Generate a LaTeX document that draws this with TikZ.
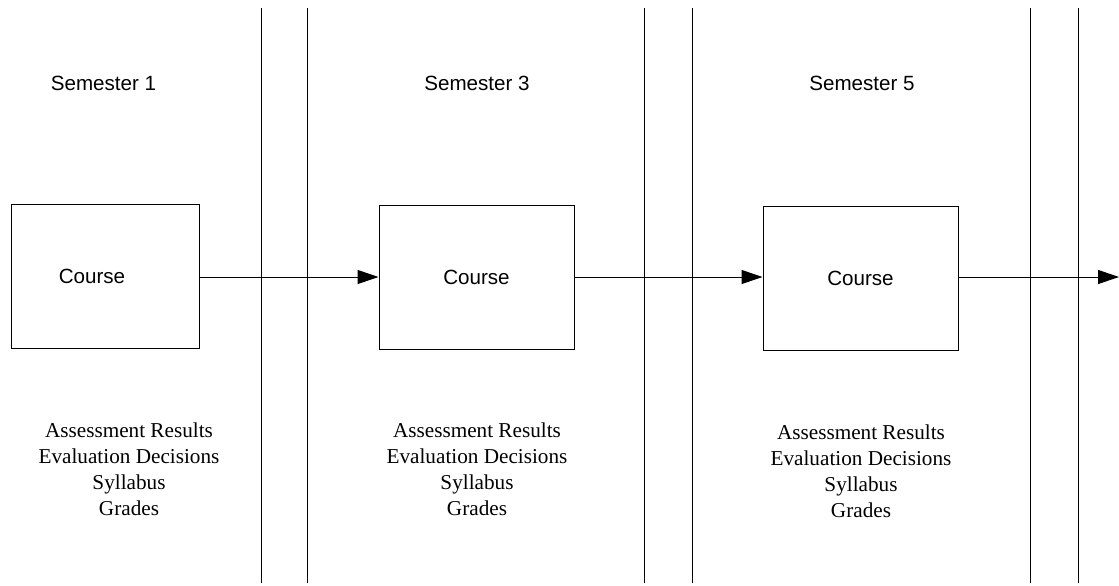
\documentclass[tikz,border=0pt]{standalone}
\usepackage{fontspec}
\setmainfont{Liberation Serif}
\setsansfont{Liberation Sans}
\usetikzlibrary{arrows.meta}
\tikzset{
  coursebox/.style={draw, line width=1pt, rectangle, inner sep=0pt},
  divider/.style={line width=1pt},
  flow/.style={line width=1pt, -{Triangle[length=21pt, width=14pt]}},
  semlabel/.style={font=\sffamily\fontsize{20.6}{24}\selectfont, inner sep=0pt},
  coursetext/.style={font=\sffamily\fontsize{20.6}{24}\selectfont, inner sep=0pt},
  itemlist/.style={font=\rmfamily\fontsize{21.2}{26}\selectfont, align=center, inner sep=0pt}
}
\begin{document}
\begin{tikzpicture}[x=1pt, y=-1pt]
\useasboundingbox (0,0) rectangle (1119,586);

% column dividers
\foreach \xx in {261,307,644,692,1030,1078}
  \draw[divider] (\xx,8) -- (\xx,583);

% semester headings
\node[semlabel] (sem1) at (103.5,83) {Semester 1};
\node[semlabel] (sem3) at (477,83) {Semester 3};
\node[semlabel] (sem5) at (862,83) {Semester 5};

% course boxes
\node[coursebox, minimum width=188pt, minimum height=144pt] (c1) at (105,276) {};
\node[coursetext] (c1t) at (92,276) {Course};
\node[coursebox, minimum width=195pt, minimum height=144pt] (c3) at (476.5,277) {};
\node[coursetext] (c3t) at (476.5,277) {Course};
\node[coursebox, minimum width=195pt, minimum height=144pt] (c5) at (860.5,278) {};
\node[coursetext] (c5t) at (860.5,278) {Course};

\coordinate (out) at (1119,277);

% flow between semesters
\draw[flow] (c1.east |- 0,277) -- (c3.west |- 0,277);
\draw[flow] (c3.east |- 0,277) -- (c5.west |- 0,277);
\draw[flow] (c5.east |- 0,277) -- (out);

% items carried with each course
\node[itemlist] (l1) at (129,469) {Assessment Results\\Evaluation Decisions\\Syllabus\\Grades};
\node[itemlist] (l3) at (477,469) {Assessment Results\\Evaluation Decisions\\Syllabus\\Grades};
\node[itemlist] (l5) at (861,471) {Assessment Results\\Evaluation Decisions\\Syllabus\\Grades};
\end{tikzpicture}
\end{document}
